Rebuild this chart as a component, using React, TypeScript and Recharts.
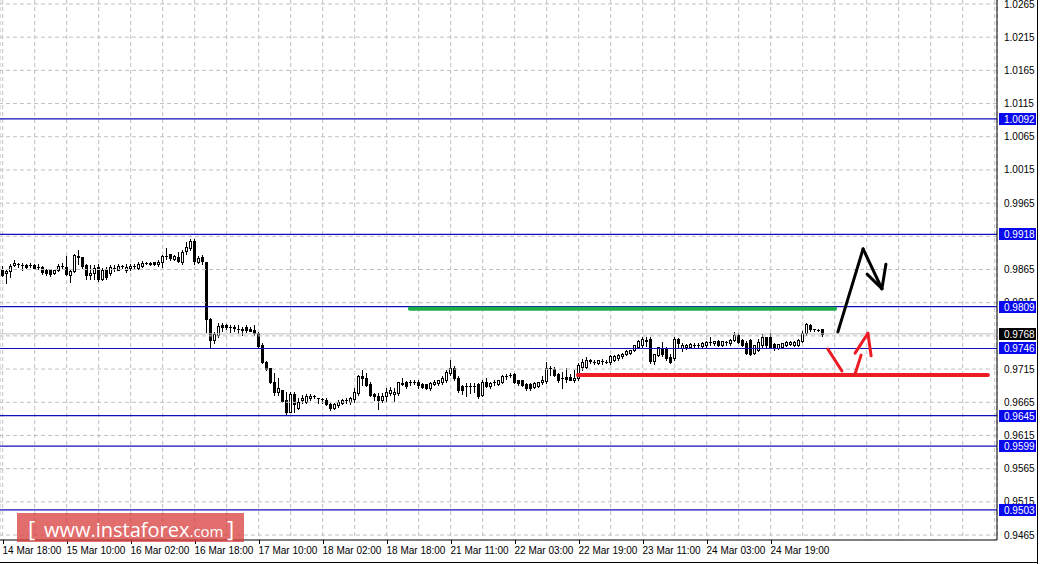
import { ComposedChart, Bar, XAxis, YAxis, CartesianGrid, ReferenceLine } from "recharts"

// hourly candles, [open, high, low, close], 14 Mar 18:00 onwards
const ohlc: [number, number, number, number][] = [
  [0.9865, 0.9871, 0.9855, 0.9856], [0.9859, 0.9866, 0.9844, 0.9863], [0.9862, 0.9873, 0.9853, 0.9871], [0.9872, 0.9879, 0.9870, 0.9875],
  [0.9873, 0.9875, 0.9869, 0.9873], [0.9872, 0.9875, 0.9865, 0.9872], [0.9872, 0.9874, 0.9868, 0.9869], [0.9872, 0.9875, 0.9869, 0.9872],
  [0.9872, 0.9874, 0.9866, 0.9868], [0.9869, 0.9874, 0.9866, 0.9869], [0.9869, 0.9870, 0.9858, 0.9861], [0.9864, 0.9866, 0.9856, 0.9859],
  [0.9864, 0.9865, 0.9855, 0.9858], [0.9860, 0.9865, 0.9858, 0.9864], [0.9865, 0.9873, 0.9863, 0.9871], [0.9871, 0.9875, 0.9868, 0.9871],
  [0.9869, 0.9886, 0.9856, 0.9858], [0.9856, 0.9866, 0.9846, 0.9863], [0.9863, 0.9888, 0.9861, 0.9887], [0.9884, 0.9894, 0.9874, 0.9885],
  [0.9884, 0.9884, 0.9868, 0.9871], [0.9872, 0.9873, 0.9850, 0.9856], [0.9856, 0.9872, 0.9851, 0.9860], [0.9859, 0.9872, 0.9851, 0.9868],
  [0.9869, 0.9873, 0.9848, 0.9850], [0.9851, 0.9867, 0.9849, 0.9865], [0.9865, 0.9869, 0.9851, 0.9854], [0.9859, 0.9872, 0.9857, 0.9869],
  [0.9868, 0.9872, 0.9862, 0.9868], [0.9865, 0.9873, 0.9864, 0.9871], [0.9870, 0.9872, 0.9868, 0.9870], [0.9865, 0.9873, 0.9861, 0.9869],
  [0.9867, 0.9873, 0.9865, 0.9871], [0.9871, 0.9873, 0.9868, 0.9871], [0.9868, 0.9877, 0.9866, 0.9873], [0.9871, 0.9878, 0.9869, 0.9875],
  [0.9875, 0.9877, 0.9873, 0.9875], [0.9875, 0.9876, 0.9872, 0.9873], [0.9876, 0.9877, 0.9872, 0.9873], [0.9873, 0.9879, 0.9870, 0.9877],
  [0.9877, 0.9887, 0.9869, 0.9886], [0.9885, 0.9898, 0.9881, 0.9886], [0.9888, 0.9888, 0.9880, 0.9883], [0.9881, 0.9887, 0.9879, 0.9885],
  [0.9884, 0.9891, 0.9876, 0.9878], [0.9877, 0.9894, 0.9874, 0.9892], [0.9893, 0.9907, 0.9889, 0.9899], [0.9898, 0.9911, 0.9895, 0.9908],
  [0.9908, 0.9911, 0.9874, 0.9878], [0.9877, 0.9886, 0.9875, 0.9883], [0.9884, 0.9887, 0.9873, 0.9878], [0.9877, 0.9877, 0.9771, 0.9790],
  [0.9790, 0.9792, 0.9747, 0.9759], [0.9759, 0.9771, 0.9755, 0.9768], [0.9767, 0.9784, 0.9764, 0.9780], [0.9781, 0.9784, 0.9773, 0.9778],
  [0.9781, 0.9783, 0.9776, 0.9778], [0.9779, 0.9782, 0.9771, 0.9779], [0.9778, 0.9781, 0.9773, 0.9777], [0.9776, 0.9781, 0.9769, 0.9775],
  [0.9775, 0.9778, 0.9767, 0.9774], [0.9778, 0.9782, 0.9771, 0.9774], [0.9776, 0.9778, 0.9772, 0.9773], [0.9774, 0.9782, 0.9767, 0.9769],
  [0.9770, 0.9771, 0.9749, 0.9750], [0.9752, 0.9754, 0.9724, 0.9726], [0.9726, 0.9727, 0.9714, 0.9715], [0.9716, 0.9717, 0.9694, 0.9695],
  [0.9695, 0.9709, 0.9676, 0.9680], [0.9680, 0.9701, 0.9676, 0.9686], [0.9684, 0.9684, 0.9666, 0.9667], [0.9668, 0.9681, 0.9648, 0.9651],
  [0.9651, 0.9681, 0.9650, 0.9677], [0.9678, 0.9681, 0.9651, 0.9663], [0.9656, 0.9671, 0.9655, 0.9666], [0.9668, 0.9676, 0.9664, 0.9672],
  [0.9666, 0.9677, 0.9664, 0.9674], [0.9671, 0.9677, 0.9668, 0.9675], [0.9674, 0.9676, 0.9671, 0.9675], [0.9671, 0.9672, 0.9664, 0.9671],
  [0.9670, 0.9671, 0.9664, 0.9670], [0.9668, 0.9671, 0.9661, 0.9662], [0.9662, 0.9664, 0.9653, 0.9656], [0.9656, 0.9664, 0.9655, 0.9662],
  [0.9661, 0.9668, 0.9658, 0.9665], [0.9664, 0.9670, 0.9662, 0.9668], [0.9668, 0.9672, 0.9664, 0.9669], [0.9666, 0.9673, 0.9662, 0.9671],
  [0.9670, 0.9686, 0.9666, 0.9681], [0.9679, 0.9706, 0.9676, 0.9704], [0.9704, 0.9714, 0.9691, 0.9701], [0.9702, 0.9709, 0.9689, 0.9691],
  [0.9693, 0.9696, 0.9675, 0.9676], [0.9677, 0.9679, 0.9669, 0.9674], [0.9675, 0.9679, 0.9655, 0.9668], [0.9668, 0.9679, 0.9666, 0.9675],
  [0.9675, 0.9686, 0.9667, 0.9681], [0.9679, 0.9688, 0.9676, 0.9684], [0.9677, 0.9687, 0.9667, 0.9681], [0.9679, 0.9696, 0.9676, 0.9695],
  [0.9693, 0.9701, 0.9691, 0.9694], [0.9695, 0.9697, 0.9686, 0.9690], [0.9695, 0.9698, 0.9691, 0.9695], [0.9696, 0.9698, 0.9692, 0.9696],
  [0.9696, 0.9699, 0.9687, 0.9691], [0.9692, 0.9694, 0.9686, 0.9688], [0.9692, 0.9693, 0.9685, 0.9686], [0.9686, 0.9696, 0.9684, 0.9694],
  [0.9693, 0.9699, 0.9691, 0.9696], [0.9694, 0.9699, 0.9691, 0.9699], [0.9696, 0.9704, 0.9693, 0.9701], [0.9699, 0.9713, 0.9696, 0.9711],
  [0.9709, 0.9729, 0.9706, 0.9717], [0.9717, 0.9719, 0.9699, 0.9701], [0.9701, 0.9704, 0.9681, 0.9683], [0.9689, 0.9691, 0.9678, 0.9683],
  [0.9690, 0.9694, 0.9674, 0.9690], [0.9689, 0.9694, 0.9679, 0.9690], [0.9690, 0.9694, 0.9681, 0.9689], [0.9692, 0.9694, 0.9672, 0.9675],
  [0.9676, 0.9699, 0.9675, 0.9696], [0.9696, 0.9701, 0.9688, 0.9689], [0.9689, 0.9696, 0.9687, 0.9694], [0.9695, 0.9699, 0.9691, 0.9695],
  [0.9693, 0.9699, 0.9691, 0.9698], [0.9695, 0.9706, 0.9694, 0.9705], [0.9705, 0.9707, 0.9700, 0.9705], [0.9706, 0.9709, 0.9703, 0.9706],
  [0.9707, 0.9709, 0.9694, 0.9696], [0.9698, 0.9699, 0.9691, 0.9694], [0.9698, 0.9699, 0.9689, 0.9691], [0.9692, 0.9694, 0.9684, 0.9686],
  [0.9692, 0.9694, 0.9684, 0.9686], [0.9688, 0.9696, 0.9686, 0.9694], [0.9689, 0.9696, 0.9688, 0.9695], [0.9695, 0.9704, 0.9693, 0.9699],
  [0.9697, 0.9725, 0.9694, 0.9716], [0.9716, 0.9719, 0.9706, 0.9716], [0.9715, 0.9718, 0.9704, 0.9706], [0.9707, 0.9709, 0.9696, 0.9698],
  [0.9702, 0.9711, 0.9687, 0.9702], [0.9703, 0.9716, 0.9696, 0.9700], [0.9703, 0.9708, 0.9699, 0.9699], [0.9699, 0.9714, 0.9696, 0.9702],
  [0.9701, 0.9724, 0.9699, 0.9721], [0.9718, 0.9730, 0.9714, 0.9726], [0.9718, 0.9733, 0.9716, 0.9728], [0.9728, 0.9730, 0.9724, 0.9727],
  [0.9726, 0.9728, 0.9722, 0.9725], [0.9724, 0.9729, 0.9722, 0.9728], [0.9727, 0.9730, 0.9722, 0.9727], [0.9726, 0.9728, 0.9724, 0.9726],
  [0.9726, 0.9736, 0.9723, 0.9735], [0.9729, 0.9736, 0.9727, 0.9735], [0.9731, 0.9738, 0.9729, 0.9736], [0.9734, 0.9739, 0.9732, 0.9738],
  [0.9738, 0.9744, 0.9736, 0.9742], [0.9739, 0.9744, 0.9737, 0.9744], [0.9743, 0.9752, 0.9742, 0.9751], [0.9749, 0.9759, 0.9748, 0.9758],
  [0.9752, 0.9763, 0.9747, 0.9761], [0.9757, 0.9763, 0.9750, 0.9759], [0.9761, 0.9763, 0.9724, 0.9727], [0.9727, 0.9738, 0.9723, 0.9737],
  [0.9736, 0.9749, 0.9734, 0.9748], [0.9747, 0.9756, 0.9734, 0.9737], [0.9745, 0.9748, 0.9729, 0.9732], [0.9733, 0.9737, 0.9724, 0.9726],
  [0.9731, 0.9763, 0.9729, 0.9761], [0.9761, 0.9762, 0.9747, 0.9754], [0.9746, 0.9754, 0.9742, 0.9752], [0.9748, 0.9753, 0.9745, 0.9752],
  [0.9748, 0.9754, 0.9746, 0.9753], [0.9752, 0.9755, 0.9748, 0.9752], [0.9752, 0.9755, 0.9749, 0.9752], [0.9750, 0.9756, 0.9748, 0.9754],
  [0.9752, 0.9757, 0.9749, 0.9756], [0.9756, 0.9763, 0.9752, 0.9756], [0.9754, 0.9758, 0.9752, 0.9758], [0.9758, 0.9759, 0.9750, 0.9752],
  [0.9752, 0.9758, 0.9750, 0.9758], [0.9756, 0.9758, 0.9752, 0.9756], [0.9754, 0.9761, 0.9752, 0.9759], [0.9759, 0.9771, 0.9757, 0.9766],
  [0.9766, 0.9769, 0.9754, 0.9756], [0.9759, 0.9761, 0.9750, 0.9752], [0.9754, 0.9757, 0.9737, 0.9739], [0.9759, 0.9761, 0.9736, 0.9738],
  [0.9739, 0.9752, 0.9737, 0.9752], [0.9744, 0.9761, 0.9742, 0.9756], [0.9752, 0.9768, 0.9749, 0.9764], [0.9763, 0.9764, 0.9749, 0.9752],
  [0.9764, 0.9769, 0.9748, 0.9749], [0.9753, 0.9755, 0.9744, 0.9747], [0.9747, 0.9753, 0.9745, 0.9753], [0.9749, 0.9755, 0.9747, 0.9754],
  [0.9752, 0.9757, 0.9750, 0.9756], [0.9753, 0.9757, 0.9751, 0.9756], [0.9752, 0.9757, 0.9750, 0.9756], [0.9752, 0.9760, 0.9750, 0.9759],
  [0.9758, 0.9772, 0.9756, 0.9769], [0.9769, 0.9784, 0.9767, 0.9783], [0.9782, 0.9783, 0.9772, 0.9776], [0.9775, 0.9776, 0.9773, 0.9775],
  [0.9774, 0.9776, 0.9772, 0.9774], [0.9775, 0.9775, 0.9765, 0.9768],
]

// one label every 16 bars
const timeLabels = [
  "14 Mar 18:00", "15 Mar 10:00", "16 Mar 02:00", "16 Mar 18:00", "17 Mar 10:00", "18 Mar 02:00", "18 Mar 18:00",
  "21 Mar 11:00", "22 Mar 03:00", "22 Mar 19:00", "23 Mar 11:00", "24 Mar 03:00", "24 Mar 19:00",
]
const priceTicks = [
  1.0265, 1.0215, 1.0165, 1.0115, 1.0065, 1.0015, 0.9965, 0.9915, 0.9865, 0.9815, 0.9765, 0.9715,
  0.9665, 0.9615, 0.9565, 0.9515, 0.9465,
]
const levels = [1.0092, 0.9918, 0.9809, 0.9746, 0.9645, 0.9599, 0.9503]
const bid = 0.9768

// hand drawn marks, [bar index, price]
const greenLine: [number, number][] = [[101.8, 0.9806], [208.1, 0.9806]]
const redLine: [number, number][] = [[143.8, 0.9706], [246.3, 0.9706]]
const blackArrow: [number, number][][] = [
  [[208.8, 0.9771], [215.1, 0.9896], [219.8, 0.9836], [220.8, 0.9873]],
  [[216.1, 0.9858], [219.8, 0.9836]],
]
const redArrow: [number, number][][] = [
  [[206.3, 0.9745], [209.8, 0.9712]],
  [[213.1, 0.9708], [214.6, 0.9736]],
  [[213.1, 0.9739], [216.3, 0.9769], [217.1, 0.9735]],
]

const data = ohlc.map(([o, h, l, c], i) => ({ i, o, h, l, c }))
const gridTicks = Array.from({ length: 32 }, (_, k) => k * 8)

const FONT = "'Liberation Sans', Arial, sans-serif"

function Candle(props: any) {
  const { x, y, width, height, payload } = props
  if (x == null || !payload) return null
  const top = Math.min(y, y + height)
  const bot = Math.max(y, y + height)
  const { o, h, l, c } = payload
  const k = (bot - top) / (h - l)
  const py = (v: number) => top + (h - v) * k
  const cx = Math.round(x + width / 2) + 0.5
  const bt = Math.round(py(Math.max(o, c)))
  const bb = Math.round(py(Math.min(o, c)))
  return (
    <g>
      <line x1={cx} x2={cx} y1={Math.round(py(h))} y2={Math.round(py(l)) + 1} stroke="#000" />
      {bb - bt < 1 ? (
        <line x1={cx - 1.5} x2={cx + 1.5} y1={bt + 0.5} y2={bt + 0.5} stroke="#000" />
      ) : c < o ? (
        <rect x={cx - 1.5} y={bt} width={3} height={bb - bt + 1} fill="#000" />
      ) : (
        <rect x={cx - 1} y={bt + 0.5} width={2} height={bb - bt} fill="#fff" stroke="#000" />
      )}
    </g>
  )
}

function TimeTick(props: any) {
  const { x, y, payload } = props
  const v = payload.value
  if (v % 16 !== 0 || !timeLabels[v / 16]) return null
  const px = Math.round(x) + 0.5
  return (
    <g>
      <line x1={px} x2={px} y1={y} y2={y + 4} stroke="#000" />
      <text x={px - 1} y={y + 14} fontSize={10} fontFamily={FONT} fill="#000">
        {timeLabels[v / 16]}
      </text>
    </g>
  )
}

// price scale text, drawn as reference-line labels so the tags below can cover it
function PriceText(props: any) {
  const { viewBox, text } = props
  if (!viewBox) return null
  const y = Math.max(viewBox.y + 3.5, 8)
  return (
    <text x={viewBox.x + viewBox.width + 7} y={y} fontSize={10} fontFamily={FONT} fill="#000">
      {text}
    </text>
  )
}

function PriceTag(props: any) {
  const { viewBox, text, fill } = props
  if (!viewBox) return null
  const cy = Math.round(viewBox.y)
  const left = viewBox.x + viewBox.width + 2
  return (
    <g>
      <rect x={left} y={cy - 6} width={37} height={12} fill={fill} />
      <text x={left + 5} y={cy + 4} fontSize={10} fontFamily={FONT} fill="#fff">
        {text}
      </text>
    </g>
  )
}

function segments(path: [number, number][], color: string, w: number, key: string) {
  return path.slice(1).map((p, n) => (
    <ReferenceLine
      key={key + n}
      segment={[{ x: path[n][0], y: path[n][1] }, { x: p[0], y: p[1] }]}
      stroke={color}
      strokeWidth={w}
      strokeLinecap="round"
    />
  ))
}

export default function App() {
  return (
    <div style={{ position: "fixed", left: 0, top: 0, width: 1043, height: 564, background: "#fff", fontFamily: FONT }}>
      <ComposedChart width={1043} height={564} data={data} margin={{ top: 0, right: 0, bottom: 0, left: 0 }}>
        <CartesianGrid stroke="#c0c0c0" strokeDasharray="4 3" horizontal={false} />
        <XAxis
          type="number"
          dataKey="i"
          domain={[-0.675, 248.575]}
          allowDataOverflow
          ticks={gridTicks}
          interval={0}
          tick={<TimeTick />}
          tickLine={false}
          tickSize={0}
          tickMargin={0}
          axisLine={{ stroke: "#000" }}
          height={24}
        />
        <YAxis
          orientation="right"
          type="number"
          domain={[0.94575, 1.0271]}
          allowDataOverflow
          ticks={priceTicks}
          interval={0}
          width={46}
          tickLine={false}
          tick={() => <g />}
          axisLine={{ stroke: "#000" }}
        />
        {priceTicks.map((t) => (
          <ReferenceLine
            key={"t" + t}
            y={t}
            stroke="#c0c0c0"
            strokeDasharray="4 3"
            label={<PriceText text={t.toFixed(4)} />}
          />
        ))}
        <ReferenceLine y={bid} stroke="#c0c0c0" />
        {levels.map((lv) => (
          <ReferenceLine
            key={lv}
            y={lv}
            stroke="#1010b8"
            strokeWidth={1.2}
            label={<PriceTag text={lv.toFixed(4)} fill="#0808f0" />}
          />
        ))}
        <ReferenceLine y={bid} stroke="none" label={<PriceTag text={bid.toFixed(4)} fill="#000" />} />
        <Bar dataKey={(d: any) => [d.l, d.h]} shape={(p: any) => <Candle {...p} />} barSize={3} isAnimationActive={false} />
        {segments(greenLine, "#1fae4a", 4, "g")}
        {segments(redLine, "#ec1c24", 4, "r")}
        {blackArrow.map((p, n) => segments(p, "#000", 3, "b" + n))}
        {redArrow.map((p, n) => segments(p, "#ec1c24", 3, "ra" + n))}
      </ComposedChart>
      <div style={{ position: "absolute", left: 1037, top: 0, width: 1, height: 564, background: "#000" }} />
      <div style={{ position: "absolute", left: 0, top: 562, width: 1037, height: 1, background: "#000" }} />
      <svg width={1043} height={564} style={{ position: "absolute", left: 0, top: 0, pointerEvents: "none" }}>
        <rect x={17} y={513} width={227} height={29} fill="#d83c3c" fillOpacity={0.75} />
        <text x={28} y={537} fontSize={22} fontFamily="'Open Sans', sans-serif" fill="#fff">[</text>
        <text x={44} y={537} fontSize={20} fontFamily="'Open Sans', sans-serif" fill="#fff">
          www.instaforex<tspan fontSize={15}>.com</tspan>
        </text>
        <text x={227} y={537} fontSize={22} fontFamily="'Open Sans', sans-serif" fill="#fff">]</text>
      </svg>
    </div>
  )
}
